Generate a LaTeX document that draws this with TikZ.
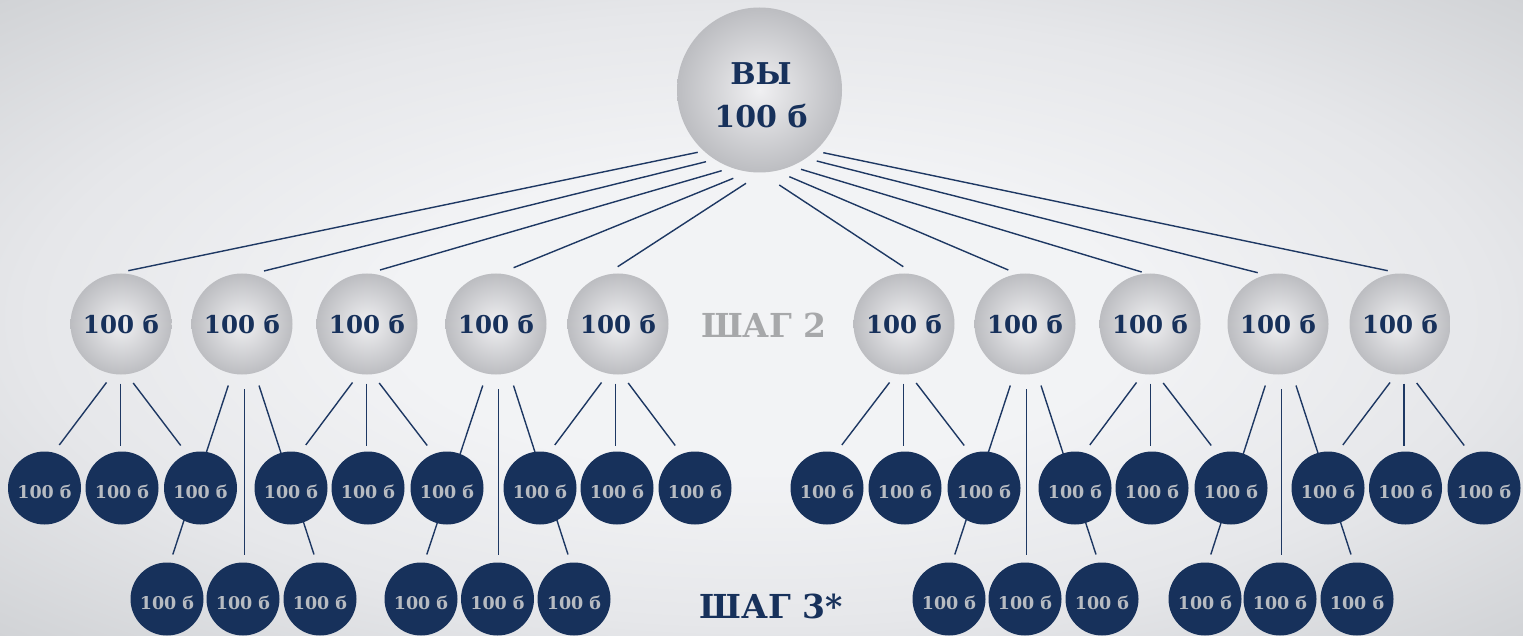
\documentclass[tikz,border=0pt]{standalone}
\usepackage{fontspec}
\setmainfont{DejaVu Serif}
\usetikzlibrary{calc}
\definecolor{navy}{HTML}{17315B}
\definecolor{linec}{HTML}{1E3863}
\definecolor{bglight}{HTML}{F2F3F5}
\definecolor{bgmid}{HTML}{E6E7EA}
\definecolor{bgdark}{HTML}{D0D2D5}
\definecolor{ballin}{HTML}{F0F0F2}
\definecolor{ballout}{HTML}{BCBDC1}
\definecolor{dtext}{HTML}{B7BBC1}
\definecolor{steptwo}{HTML}{A7A8AA}
\pgfdeclarelayer{bg}
\pgfdeclarelayer{lines}
\pgfsetlayers{bg,lines,main}
\pgfdeclareradialshading{bgshade}{\pgfpoint{0bp}{0bp}}{color(0bp)=(bglight); color(12bp)=(bglight); color(24bp)=(bgmid); color(36bp)=(bgdark); color(50bp)=(bgdark)}
\tikzset{
  bigball/.style={circle, minimum size=165pt, inner sep=0pt, shade, inner color=ballin, outer color=ballout},
  midball/.style={circle, minimum size=101pt, inner sep=0pt, shade, inner color=ballin, outer color=ballout,
    text=navy, font=\fontsize{24.5}{24.5}\selectfont\bfseries, text height=20pt, text depth=0pt},
  smallball/.style={circle, minimum size=73pt, inner sep=0pt, fill=navy,
    text=dtext, font=\fontsize{17.5}{17.5}\selectfont\bfseries, text height=21pt, text depth=0pt},
  toptext/.style={text=navy, font=\fontsize{30}{30}\selectfont\bfseries, inner sep=0pt, anchor=base},
  steplabel/.style={font=\fontsize{33}{33}\selectfont\bfseries, inner sep=0pt, anchor=base},
  conn/.style={draw=linec, line width=1.4pt}
}
\begin{document}
\begin{tikzpicture}[x=1pt, y=-1pt]
\useasboundingbox (0,0) rectangle (1523,636);
\begin{pgfonlayer}{bg}
  \shade[shading=bgshade] (0,0) rectangle (1523,636);
\end{pgfonlayer}

% top
\node[bigball] (y) at (759.5,90) {};
\node[toptext] (yt) at (761,85) {ВЫ};
\node[toptext] (yp) at (761,128) {100 б};

% level 2
\foreach \i/\x in {1/121,2/242,3/367,4/496,5/618,6/904,7/1025,8/1150,9/1278,10/1400}
  \node[midball] (a\i) at (\x,324) {100 б};

% level 3
\foreach \i/\x in {1/44.5,2/122,3/200.5,4/291,5/368,6/447,7/540,8/617,9/695,10/827,11/905,12/984,13/1075,14/1152,15/1231,16/1328,17/1405.5,18/1484}
  \node[smallball] (b\i) at (\x,488) {100 б};

% level 4
\foreach \i/\x in {1/167,2/243,3/320,4/421,5/497.5,6/574,7/949,8/1025,9/1102,10/1205,11/1280,12/1357}
  \node[smallball] (d\i) at (\x,599) {100 б};

\node[steplabel, text=steptwo] (s2) at (764,337) {ШАГ 2};
\node[steplabel, text=navy] (s3) at (771,618) {ШАГ 3*};

\begin{pgfonlayer}{lines}
  % top connectors
  \draw[conn] ($(y)+(-61.8,62.3)$) -- ($(a1)+(7.3,-53.3)$);
  \draw[conn] ($(y)+(-53.5,71.7)$) -- ($(a2)+(22,-53)$);
  \draw[conn] ($(y)+(-37.8,80.7)$) -- ($(a3)+(13,-54)$);
  \draw[conn] ($(y)+(-26.2,88.3)$) -- ($(a4)+(17.6,-56.3)$);
  \draw[conn] ($(y)+(-13.5,93.3)$) -- ($(a5)+(-0.3,-57.3)$);
  \draw[conn] ($(y)+(19.8,95)$) -- ($(a6)+(-0.7,-57.3)$);
  \draw[conn] ($(y)+(29.8,86.7)$) -- ($(a7)+(-16.7,-54)$);
  \draw[conn] ($(y)+(41.5,79.3)$) -- ($(a8)+(-8.3,-52)$);
  \draw[conn] ($(y)+(57.2,71)$) -- ($(a9)+(-20.3,-51.3)$);
  \draw[conn] ($(y)+(63.8,62.7)$) -- ($(a10)+(-12.3,-53.3)$);

  % groups with three level-3 children
  \foreach \p/\l/\m/\r in {a1/b1/b2/b3, a3/b4/b5/b6, a5/b7/b8/b9, a6/b10/b11/b12, a8/b13/b14/b15, a10/b16/b17/b18} {
    \draw[conn] ($(\m |- \p)+(-15.5,58.5)$) -- ($(\l)+(14.8,-43)$);
    \draw[conn] ($(\m |- \p)+(-1.5,59.5)$) -- ($(\m)+(-1.5,-42)$);
    \draw[conn] ($(\m |- \p)+(11.2,59)$) -- ($(\r)+(-19.8,-42.5)$);
  }
  % groups with three level-4 children
  \foreach \p/\l/\m/\r in {a2/d1/d2/d3, a4/d4/d5/d6, a7/d7/d8/d9, a9/d10/d11/d12} {
    \draw[conn] ($(\m |- \p)+(-14.7,61.5)$) -- ($(\l)+(5.8,-44.5)$);
    \draw[conn] ($(\m |- \p)+(1.2,65)$) -- ($(\m)+(1.2,-44)$);
    \draw[conn] ($(\m |- \p)+(16,61.5)$) -- ($(\r)+(-6,-44.5)$);
  }
\end{pgfonlayer}
\end{tikzpicture}
\end{document}
